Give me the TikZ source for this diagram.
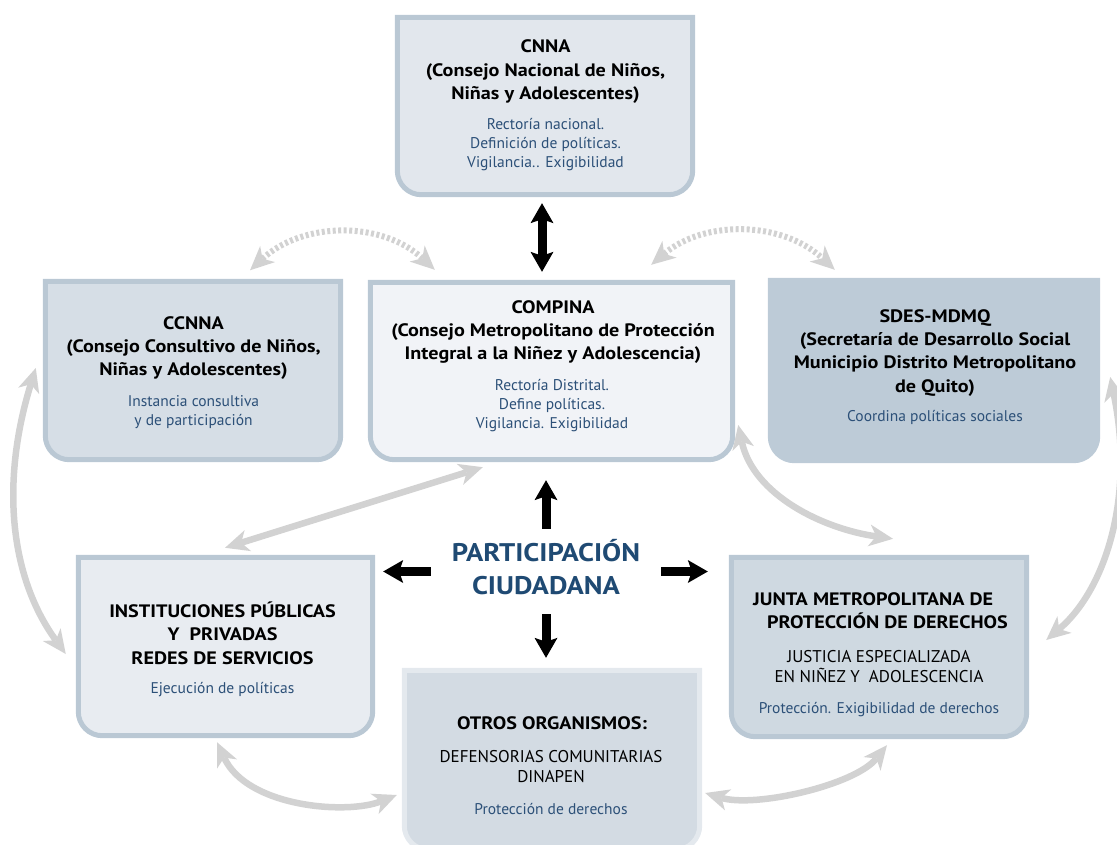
\documentclass[tikz,border=0pt]{standalone}
\usepackage{fontspec}
\setmainfont{PT Sans}
\newfontfamily\widefont{PT Sans}[FakeStretch=1.12]
\usetikzlibrary{arrows.meta,calc}
\definecolor{rolecol}{RGB}{44,80,120}
\definecolor{partcol}{RGB}{31,74,115}
\definecolor{bordercol}{RGB}{186,200,212}
\definecolor{cnnafill}{RGB}{226,231,237}
\definecolor{ccnnafill}{RGB}{214,222,230}
\definecolor{compfill}{RGB}{241,243,247}
\definecolor{sdesfill}{RGB}{189,203,215}
\definecolor{instfill}{RGB}{232,236,241}
\definecolor{juntafill}{RGB}{207,217,225}
\definecolor{otrosfill}{RGB}{211,219,227}
\definecolor{otrosborder}{RGB}{228,233,238}
\definecolor{arrowgray}{RGB}{210,210,210}
\newcommand\stackc[1]{\begin{tabular}[t]{@{}c@{}}#1\end{tabular}}
\newcommand\stackl[1]{\begin{tabular}[t]{@{}l@{}}#1\end{tabular}}
\newcommand\orgboxshape[3]{\path[fill=#2,draw=#3,line width=5pt] (#1.north) -- (#1.north east) [rounded corners=24pt] -- (#1.south east) -- (#1.south west) [sharp corners] -- (#1.north west) -- cycle;}
\tikzset{
  orgbox/.style={rectangle,inner sep=0pt,draw=none},
  ttl/.style={font=\widefont\bfseries\fontsize{18}{23.5}\selectfont,inner sep=0pt,anchor=base},
  role/.style={font=\fontsize{15.5}{19}\selectfont,text=rolecol,inner sep=0pt,anchor=base},
  plain/.style={font=\fontsize{17}{20.5}\selectfont,inner sep=0pt,anchor=base},
  gtip/.tip={Stealth[length=24pt,width=22pt,inset=7pt,line width=0pt]},
  btip/.tip={Stealth[length=20pt,width=23pt,inset=4pt,line width=0pt]},
  garrow/.style={draw=arrowgray,line width=6.5pt,gtip-gtip},
  gdotted/.style={draw=arrowgray,line width=6pt,dash pattern=on 3pt off 2.5pt,gtip-gtip},
  barrow/.style={draw=black,line width=9pt,-btip},
  bdouble/.style={draw=black,line width=9pt,btip-btip},
}
\begin{document}
\begin{tikzpicture}[x=1pt,y=-1pt]
\useasboundingbox (0,0) rectangle (1117,845);
\clip (0,0) rectangle (1117,845);
% boxes
\node[orgbox,minimum width=295,minimum height=177] (cnna) at (545,106) {};
\node[orgbox,minimum width=295,minimum height=178] (ccnna) at (193,370.5) {};
\node[orgbox,minimum width=362,minimum height=177] (compina) at (551.5,371) {};
\node[orgbox,minimum width=327,minimum height=180] (sdes) at (934,370.5) {};
\node[orgbox,minimum width=294,minimum height=178] (inst) at (225.5,646.5) {};
\node[orgbox,minimum width=295,minimum height=179] (junta) at (879,647) {};
\node[orgbox,minimum width=295,minimum height=179] (otros) at (552,760) {};
\orgboxshape{cnna}{cnnafill}{bordercol}
\orgboxshape{ccnna}{ccnnafill}{bordercol}
\orgboxshape{compina}{compfill}{bordercol}
\orgboxshape{sdes}{sdesfill}{sdesfill}
\orgboxshape{inst}{instfill}{bordercol}
\orgboxshape{junta}{juntafill}{bordercol}
\orgboxshape{otros}{otrosfill}{otrosborder}
% texts
\node[ttl] (cnna-t) at (545.5,53) {\stackc{CNNA\\(Consejo Nacional de Niños,\\Niñas y Adolescentes)}};
\node[role] (cnna-r) at (545.5,130) {\stackc{Rectoría nacional.\\Definición de políticas.\\Vigilancia.. Exigibilidad}};
\node[ttl] (ccnna-t) at (193.5,329) {\stackc{CCNNA\\(Consejo Consultivo de Niños,\\Niñas y Adolescentes)}};
\node[role] (ccnna-r) at (193.5,406) {\stackc{Instancia consultiva\\y de participación}};
\node[ttl] (compina-t) at (553,313) {\stackc{COMPINA\\(Consejo Metropolitano de Protección\\Integral a la Niñez y Adolescencia)}};
\node[role] (compina-r) at (552,390) {\stackc{Rectoría Distrital.\\Define políticas.\\Vigilancia. Exigibilidad}};
\node[ttl] (sdes-t) at (935,322) {\stackc{SDES-MDMQ\\(Secretaría de Desarrollo Social\\Municipio Distrito Metropolitano\\de Quito)}};
\node[role] (sdes-r) at (935,421) {Coordina políticas sociales};
\node[ttl] (inst-t) at (222.5,617) {\stackc{INSTITUCIONES PÚBLICAS\\Y~ PRIVADAS\\REDES DE SERVICIOS}};
\node[role] (inst-r) at (222.5,693) {Ejecución de políticas};
\node[ttl,anchor=base west] (junta-t) at (753,605) {\stackl{JUNTA METROPOLITANA DE\\\hspace*{14pt}PROTECCIÓN DE DERECHOS}};
\node[plain] (junta-p) at (879,662) {\stackc{JUSTICIA ESPECIALIZADA\\EN NIÑEZ Y~ ADOLESCENCIA}};
\node[role] (junta-r) at (879,713) {Protección. Exigibilidad de derechos};
\node[ttl] (otros-t) at (552,729) {OTROS ORGANISMOS:};
\node[plain] (otros-p) at (551,762) {\stackc{DEFENSORIAS COMUNITARIAS\\DINAPEN}};
\node[role] (otros-r) at (551,814) {Protección de derechos};
\node[inner sep=0pt,minimum width=230,minimum height=85,text=partcol,font=\widefont\bfseries\fontsize{25.5}{33}\selectfont] (part) at (546,571.5) {\stackc{PARTICIPACIÓN\\CIUDADANA}};
% gray connectors
\draw[gdotted] ([shift={(57,-11)}]ccnna.north) .. controls +(53,-49) and +(-53,-49) .. ([shift={(64.5,-12.5)}]compina.north west);
\draw[gdotted] ([shift={(-81.5,-17.5)}]compina.north east) .. controls +(53,-45) and +(-53,-49) .. ([shift={(64.5,-10.5)}]sdes.north west);
\draw[garrow] ([shift={(-0.5,-9.5)}]inst.north) -- ([shift={(112.5,7.5)}]compina.south west);
\draw[garrow] ([shift={(5.5,54)}]compina.east) .. controls +(15,70) and +(-70,-10) .. ([shift={(14,-18.5)}]junta.north);
\draw[garrow] ([shift={(-9.5,-2.5)}]ccnna.west) .. controls +(-34,110) and +(-58,-80) .. ([shift={(-12.5,7.5)}]inst.west);
\draw[garrow] ([shift={(12.5,6.5)}]sdes.east) .. controls +(25,120) and +(59,-50) .. ([shift={(19.5,-7)}]junta.east);
\draw[garrow] ([shift={(-8.5,6.5)}]inst.south) .. controls +(30,65) and +(-50,20) .. ([shift={(-7.5,35)}]otros.west);
\draw[garrow] ([shift={(5.5,33)}]otros.east) .. controls +(50,15) and +(-32,40) .. ([shift={(8,8.5)}]junta.south);
% black arrows
\draw[bdouble] ([shift={(-3,8.5)}]cnna.south) -- ([shift={(-9.5,-10.5)}]compina.north);
\draw[barrow] (part.north) -- ($(part.north |- compina.south)+(0,20.5)$);
\draw[barrow] (part.south) -- ($(part.south |- otros.north)+(0,-12.5)$);
\draw[barrow] (part.west) -- ($(part.west -| inst.east)+(10.5,0)$);
\draw[barrow] (part.east) -- ($(part.east -| junta.west)+(-23.5,0)$);
\end{tikzpicture}
\end{document}
